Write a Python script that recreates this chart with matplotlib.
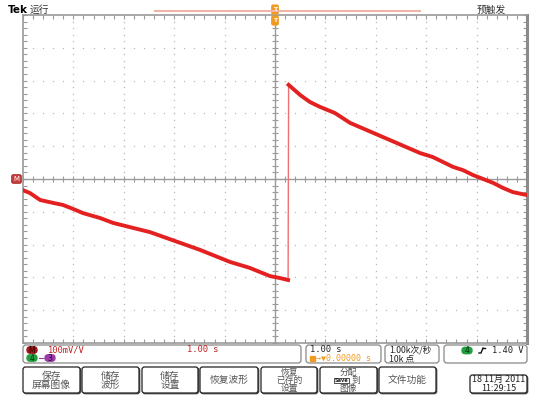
import numpy as np
import matplotlib
matplotlib.use("Agg")
import matplotlib.pyplot as plt
from matplotlib.patches import FancyBboxPatch, Rectangle

plt.rcParams['font.family'] = ['Noto Sans CJK SC', 'DejaVu Sans']

# ---- waveform (time in s, amplitude in vertical divisions) ----
time_before = [-5.00, -4.86, -4.66, -4.40, -4.21, -4.01, -3.81, -3.47, -3.21,
               -2.48, -1.49, -0.89, -0.50, -0.10, 0.10, 0.26]
level_before = [-0.34, -0.43, -0.64, -0.73, -0.79, -0.91, -1.04, -1.19, -1.34,
                -1.62, -2.16, -2.53, -2.71, -2.96, -3.02, -3.08]
time_after = [0.27, 0.50, 0.69, 0.89, 1.19, 1.49, 2.88, 3.13, 3.33, 3.53,
              3.73, 3.93, 4.13, 4.33, 4.52, 4.72, 5.00]
level_after = [2.87, 2.56, 2.35, 2.20, 2.01, 1.71, 0.79, 0.67, 0.52, 0.37,
               0.27, 0.12, 0.00, -0.12, -0.27, -0.40, -0.49]

# ---- readouts ----
title_left = "运行"
title_right = "预触发"
math_scale = "100mV/V"
math_time = "1.00 s"
horiz_scale = "1.00 s"
trig_pos = "0.00000 s"
sample_rate = "1.00k次/秒"
record_len = "10k 点"
trig_level = "1.40 V"
button_labels = ["保存\n屏幕图像", "储存\n波形", "储存\n设置", "恢复波形",
                 "恢复\n已存的\n设置", None, "文件功能"]
assign_lines = ["分配", "到", "图像"]
date_text = "18 11月 2011\n11:29:15"

W, H = 537, 404
fig = plt.figure(figsize=(W / 100, H / 100), dpi=100)
fig.patch.set_facecolor('white')


def fx(x):
    return x / W


def fy(y):
    return 1 - y / H


# graticule
ax = fig.add_axes([fx(23), fy(343), 504 / W, 328 / H])
ax.set_xlim(-5, 5)
ax.set_ylim(-5, 5)
ax.set_facecolor('white')
grid_col = '#9a9a9a'
for s in ax.spines.values():
    s.set_color(grid_col)
    s.set_linewidth(1.2)
ax.spines['right'].set_linewidth(2.2)
ax.spines['right'].set_color('#8a8a8a')

minor = np.round(np.arange(-5, 5.001, 0.2), 3)
ax.set_xticks(minor)
ax.set_yticks(minor)
ax.set_xticklabels([])
ax.set_yticklabels([])
ax.tick_params(direction='in', length=3, width=0.8, color=grid_col,
               top=True, right=True)

# dotted graticule lines
for k in range(-4, 5):
    if k == 0:
        continue
    ax.plot(np.full_like(minor, k), minor, ls='none', marker='s', ms=0.9,
            mfc='#b8b8b8', mec='none')
    ax.plot(minor, np.full_like(minor, k), ls='none', marker='s', ms=0.9,
            mfc='#b8b8b8', mec='none')

# center crosshair with ticks
ax.axhline(0, color=grid_col, lw=1.0)
ax.axvline(0, color=grid_col, lw=1.0)
ax.plot(minor, np.zeros_like(minor), ls='none', marker='|', ms=5,
        mew=0.8, color=grid_col)
ax.plot(np.zeros_like(minor), minor, ls='none', marker='_', ms=5,
        mew=0.8, color=grid_col)

# trace
red = '#e42121'
ax.plot(time_before, level_before, color=red, lw=2.8, solid_joinstyle='round',
        zorder=5)
ax.plot(time_after, level_after, color=red, lw=2.8, solid_joinstyle='round',
        zorder=5)
ax.plot([time_before[-1], time_after[0]], [level_before[-1], level_after[0]],
        color='#f07070', lw=1.0, zorder=4)

# ---- overlay in figure pixels ----
ov = fig.add_axes([0, 0, 1, 1])
ov.set_xlim(0, W)
ov.set_ylim(H, 0)
ov.axis('off')

ov.text(8, 10, "Tek", fontsize=7.5, fontweight='bold', va='center',
        ha='left', family='DejaVu Sans')
ov.text(30, 10, title_left, fontsize=7, va='center', ha='left', color='#333')
ov.text(491, 10, title_right, fontsize=7, va='center', ha='center', color='#333')

# record bar and trigger markers
ov.plot([155, 420], [10.5, 10.5], color='#f0b4a8', lw=1.5)
orange = '#f09a20'
for yc in (9.5, 20.5):
    ov.add_patch(FancyBboxPatch((272.2, yc - 4), 5.6, 8,
                                boxstyle='round,pad=0.4,rounding_size=1.5',
                                fc=orange, ec=orange))
    ov.text(275, yc, "T", fontsize=4.5, color='white', ha='center',
            va='center', fontweight='bold', family='DejaVu Sans')

# channel marker at left
ov.add_patch(FancyBboxPatch((12, 175), 9, 8,
                            boxstyle='round,pad=0.3,rounding_size=1.5',
                            fc='#c84040', ec='#a02020', lw=0.6))
ov.text(16.5, 179.2, "M", fontsize=5, color='white', ha='center',
        va='center', family='DejaVu Sans')


def rbox(x0, y0, x1, y1, ec='#888888', lw=0.9, r=3):
    ov.add_patch(FancyBboxPatch((x0, y0), x1 - x0, y1 - y0,
                                boxstyle=f'round,pad=0,rounding_size={r}',
                                fc='white', ec=ec, lw=lw))


def badge(xc, yc, txt, fc, tc):
    ov.add_patch(FancyBboxPatch((xc - 5, yc - 3.2), 10, 6.4,
                                boxstyle='round,pad=0,rounding_size=3.2',
                                fc=fc, ec=fc))
    ov.text(xc, yc + 0.3, txt, fontsize=5.5, color=tc, ha='center',
            va='center', family='DejaVu Sans')


# readout boxes
rbox(23, 345, 301, 363)
rbox(306, 345, 381, 363)
rbox(385, 345, 439, 363)
rbox(444, 345, 527, 363)

badge(32, 350, "M", '#a01818', '#300000')
ov.text(48, 350, math_scale, fontsize=6.3, color='#c02020', va='center',
        ha='left', family='DejaVu Sans Mono')
ov.text(187, 350, math_time, fontsize=6.3, color='#c02020', va='center',
        ha='left', family='DejaVu Sans Mono')
badge(32, 358, "4", '#22a040', '#003010')
ov.plot([39, 43], [358, 358], color='#9040a0', lw=0.8)
badge(50, 358, "3", '#9a3aa8', '#300030')

ov.text(310, 349.5, horiz_scale, fontsize=6.3, color='#222', va='center',
        ha='left', family='DejaVu Sans Mono')
ov.add_patch(Rectangle((309.5, 355.5), 5, 5.5, fc=orange, ec=orange))
ov.text(315.5, 358.5, "→▼" + trig_pos, fontsize=6.0, color=orange,
        va='center', ha='left', family='DejaVu Sans Mono')

ov.text(389, 349.5, sample_rate, fontsize=6.3, color='#222', va='center',
        ha='left')
ov.text(389, 358.5, record_len, fontsize=6.3, color='#222', va='center',
        ha='left')

badge(467, 350.5, "4", '#22a040', '#003010')
ov.plot([479, 481, 483], [353, 353, 348], color='#111', lw=1.0)
ov.plot([483, 485], [348, 348], color='#111', lw=1.0)
ov.text(523, 350.5, trig_level, fontsize=6.3, color='#222', va='center',
        ha='right', family='DejaVu Sans Mono')

# soft-key buttons
btn_x = [(23, 80), (82, 139), (142, 198), (200, 258), (261, 317),
         (320, 377), (379, 436)]
for (x0, x1), lab in zip(btn_x, button_labels):
    ov.add_patch(FancyBboxPatch((x0 + 0.8, 367.8), x1 - x0, 26,
                                boxstyle='round,pad=0,rounding_size=2.5',
                                fc='#555555', ec='#555555', lw=0.8))
    ov.add_patch(FancyBboxPatch((x0, 367), x1 - x0, 26,
                                boxstyle='round,pad=0,rounding_size=2.5',
                                fc='white', ec='#222222', lw=0.9))
    if lab is None:
        continue
    nlines = lab.count("\n") + 1
    fs = 7.0 if nlines < 3 else 6.3
    ov.text((x0 + x1) / 2, 380.3, lab, fontsize=fs, color='#555',
            ha='center', va='center', linespacing=0.9)

# assign button: caption lines around a "Save" key glyph
ov.text(348.5, 372.2, assign_lines[0], fontsize=6.3, ha='center',
        va='center', color='#555')
ov.add_patch(Rectangle((334, 377.5), 15, 5, fc='white', ec='#333', lw=0.6))
ov.text(341.5, 380, "Save", fontsize=3.6, ha='center', va='center',
        color='#222', family='DejaVu Sans', fontweight='bold')
ov.text(356, 380.3, assign_lines[1], fontsize=6.3, ha='center', va='center',
        color='#555')
ov.text(348.5, 388.4, assign_lines[2], fontsize=6.3, ha='center',
        va='center', color='#555')

# date box
ov.add_patch(FancyBboxPatch((470.8, 375.8), 57, 18,
                            boxstyle='round,pad=0,rounding_size=2.5',
                            fc='#555555', ec='#555555', lw=0.8))
ov.add_patch(FancyBboxPatch((470, 375), 57, 18,
                            boxstyle='round,pad=0,rounding_size=2.5',
                            fc='white', ec='#222222', lw=0.9))
ov.text(498.5, 384, date_text, fontsize=6.5, color='#222', ha='center',
        va='center', linespacing=0.95)

fig.savefig("out.png", dpi=100, facecolor='white')
